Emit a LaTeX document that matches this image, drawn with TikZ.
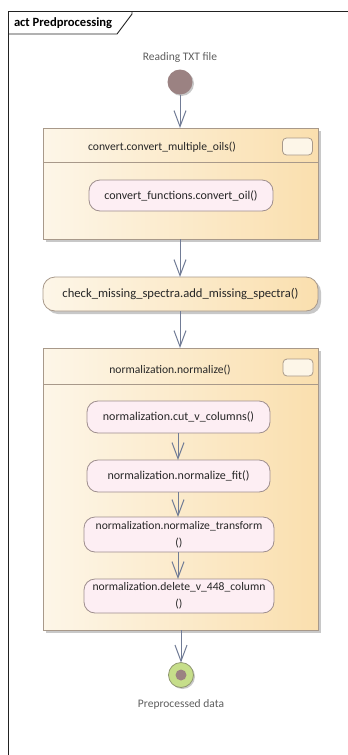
\documentclass[tikz,border=0pt]{standalone}
\usepackage{fontspec}
\setmainfont{Carlito}
\usetikzlibrary{arrows.meta}
\definecolor{framecol}{HTML}{222222}
\definecolor{boxleft}{HTML}{FDF6E8}
\definecolor{boxright}{HTML}{FADFAE}
\definecolor{boxline}{HTML}{A8998A}
\definecolor{actfill}{HTML}{FDEEF3}
\definecolor{actline}{HTML}{9E8E8E}
\definecolor{flow}{HTML}{717C96}
\definecolor{startfill}{HTML}{9B8282}
\definecolor{endfill}{HTML}{C6DE8A}
\definecolor{endline}{HTML}{8F9670}
\definecolor{txt}{HTML}{262626}
\definecolor{lbl}{HTML}{5E5E5E}
\definecolor{shadowcol}{HTML}{C8C8C8}
\tikzset{
  x=1pt, y=-1pt,
  every node/.style={inner sep=0pt, outer sep=0pt, text=txt},
  groupbox/.style={draw=boxline, line width=0.8pt, left color=boxleft, right color=boxright,
    minimum width=275pt, anchor=north west},
  actbox/.style={draw=actline, line width=0.8pt, fill=actfill, rounded corners=11pt,
    font=\fontsize{12}{16}\selectfont, align=center},
  narrowact/.style={actbox, font=\fontsize{11.6}{17}\selectfont},
  bigact/.style={draw=boxline, line width=0.8pt, left color=boxleft, right color=boxright,
    rounded corners=12pt, font=\fontsize{12.6}{15}\selectfont},
  grouptitle/.style={font=\fontsize{11.6}{13}\selectfont},
  iconbox/.style={draw=boxline, line width=0.8pt, fill=boxleft, rounded corners=4pt,
    minimum width=30pt, minimum height=17pt},
  flowline/.style={draw=flow, line width=1pt, -{Straight Barb[length=16pt, width=12pt, line width=1pt]}},
  caption/.style={text=lbl, font=\fontsize{11.5}{13}\selectfont},
}
\begin{document}
\begin{tikzpicture}
\useasboundingbox (0,0) rectangle (348,755);
\fill[white] (0,0) rectangle (348,755);

% diagram frame and its name tag
\draw[framecol, line width=0.9pt] (348,11) -- (8,11) -- (8,755);
\draw[framecol, line width=0.9pt] (132,11) -- (132,14) -- (117,34) -- (8,34);
\node[anchor=west, font=\bfseries\fontsize{12.6}{14}\selectfont, text=black] (tag) at (14,23) {act Predprocessing};

% initial node
\node[caption] (startlbl) at (180,57) {Reading TXT file};
\fill[shadowcol] (181.5,83.5) circle (12.5pt);
\node[circle, fill=startfill, minimum size=25pt] (start) at (180,82) {};

% group: convert
\fill[shadowcol] (46,131) rectangle (321,242);
\node[groupbox, minimum height=111pt] (conv) at (43,128) {};
\draw[boxline, line width=0.8pt] (43,162) -- (318,162);
\node[grouptitle] (convtitle) at (162,147) {convert.convert\_multiple\_oils()};
\node[iconbox] (convicon) at (297.5,146.5) {};
\node[actbox, minimum width=184pt, minimum height=31pt] (oil) at (181,195.5) {convert\_functions.convert\_oil()};

% missing spectra action
\fill[shadowcol, rounded corners=12pt] (46,280) rectangle (321,314);
\node[bigact, minimum width=275pt, minimum height=34pt] (spectra) at (180.5,294) {check\_missing\_spectra.add\_missing\_spectra()};

% group: normalization
\fill[shadowcol] (46,351) rectangle (321,633);
\node[groupbox, minimum height=282pt] (norm) at (43,348) {};
\draw[boxline, line width=0.8pt] (43,384) -- (318,384);
\node[grouptitle] (normtitle) at (170,370) {normalization.normalize()};
\node[iconbox] (normicon) at (298,367.5) {};

\node[actbox, minimum width=183pt, minimum height=32pt] (cut) at (178.5,417) {normalization.cut\_v\_columns()};
\node[actbox, minimum width=183pt, minimum height=32pt] (fit) at (178.5,476) {normalization.normalize\_fit()};
\node[narrowact, minimum width=190pt, minimum height=35pt] (trans) at (179,534.5) {normalization.normalize\_transform\\()};
\node[narrowact, minimum width=190pt, minimum height=34pt] (del) at (179,596) {normalization.delete\_v\_448\_column\\()};

% final node
\fill[shadowcol] (182.5,676.5) circle (12.5pt);
\node[circle, draw=endline, line width=0.8pt, fill=endfill, minimum size=25pt] (final) at (181,675) {};
\fill[startfill] (final.center) circle (5.5pt);
\node[caption] (finallbl) at (181,704) {Preprocessed data};

% control flows
\draw[flowline] (start) -- (start |- conv.north);
\draw[flowline] (180,239) -- (spectra.north -| 180,0);
\draw[flowline] (180,311) -- (180,348);
\draw[flowline] (cut.south -| 178,0) -- (fit.north -| 178,0);
\draw[flowline] (fit.south -| 178,0) -- (trans.north -| 178,0);
\draw[flowline] (trans.south -| 178,0) -- (del.north -| 178,0);
\draw[flowline] (181,630) -- (final.north);
\end{tikzpicture}
\end{document}
